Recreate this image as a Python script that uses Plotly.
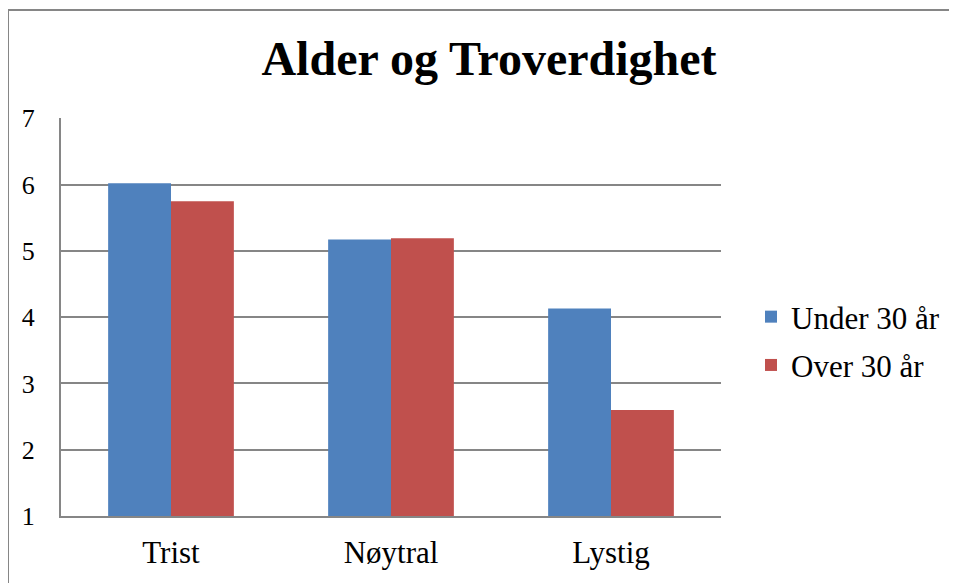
import plotly.graph_objects as go

categories = ["Trist", "Nøytral", "Lystig"]
under_30 = [6.02, 5.17, 4.13]
over_30 = [5.75, 5.19, 2.60]
series_names = ["Under 30 år", "Over 30 år"]
y_ticks = [1, 2, 3, 4, 5, 6, 7]

# page has an 8px body margin; work in figure coordinates
W, H = 949, 575
L, R, T, B = 53, 236, 110, 67
pw, ph = W - L - R, H - T - B

FONT = "Liberation Serif, Times New Roman, serif"
GRID = "#868686"

fig = go.Figure()
fig.add_trace(go.Bar(x=categories, y=under_30, name=series_names[0],
                     marker=dict(color="#4F81BD", line=dict(width=0)),
                     legendgroup="a"))
fig.add_trace(go.Bar(x=categories, y=over_30, name=series_names[1],
                     marker=dict(color="#C0504D", line=dict(width=0)),
                     legendgroup="b"))

fig.update_layout(
    width=W, height=H,
    margin=dict(l=L, r=R, t=T, b=B, autoexpand=False),
    paper_bgcolor="white", plot_bgcolor="white",
    barmode="group", bargap=1.5 / 3.5, bargroupgap=0,
    font=dict(family=FONT, color="black"),
    title=dict(text="<b>Alder og Troverdighet</b>", font=dict(size=48, family=FONT, color="black"),
               x=(481 - L) / pw, xanchor="center", xref="paper",
               y=1 - 50.5 / H, yanchor="middle", yref="container"),
    showlegend=True,
    legend=dict(x=(743 - L) / pw, xanchor="left", y=(508 - 333) / ph, yanchor="middle",
                font=dict(size=31, family=FONT, color="black"), tracegroupgap=5,
                bgcolor="rgba(0,0,0,0)", itemwidth=30),
    xaxis=dict(showgrid=False, showline=True, linecolor=GRID, linewidth=2,
               tickfont=dict(size=31, family=FONT, color="black"), ticks="",
               ticklabelstandoff=8, fixedrange=True),
    yaxis=dict(range=[1, 7.004], tickvals=y_ticks, showgrid=True, gridcolor=GRID, gridwidth=2,
               showline=True, linecolor=GRID, linewidth=2, zeroline=False,
               tickfont=dict(size=26, family=FONT, color="black"), ticks="",
               ticklabelstandoff=19, fixedrange=True),
    shapes=[dict(type="rect", xref="paper", yref="paper",
                 x0=(0 - L) / pw, x1=1 + (R + 20) / pw,
                 y0=-(B + 20) / ph, y1=1 + (T - 2) / ph,
                 line=dict(color=GRID, width=2), fillcolor="rgba(0,0,0,0)", layer="below")],
)

fig.write_html("out.html", config={"displayModeBar": False})
